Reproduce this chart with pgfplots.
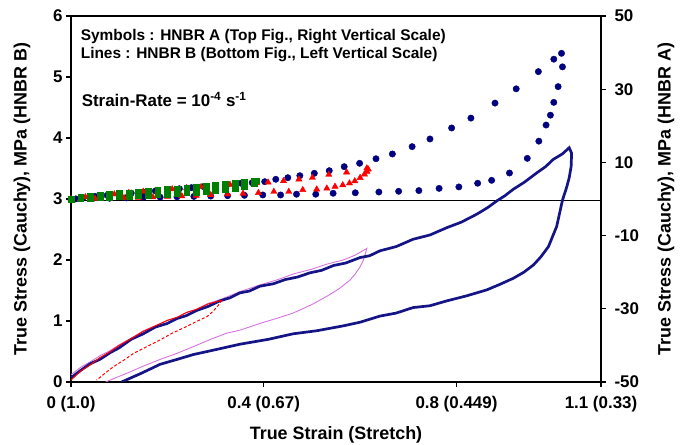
\documentclass[border=0pt]{standalone}
\usepackage{fontspec}
\setmainfont{Liberation Sans}
\usepackage{pgfplots}
\pgfplotsset{compat=1.18}
\definecolor{navyl}{RGB}{20,20,135}
\definecolor{dotblue}{RGB}{0,0,128}
\definecolor{pinkl}{RGB}{215,115,225}
\definecolor{gr}{RGB}{0,128,0}
\begin{document}
\begin{tikzpicture}
\pgfplotsset{
  common/.style={
    width=530bp, height=366bp, scale only axis,
    xmin=0, xmax=1.1,
    tick align=outside,
    major tick length=5bp,
    every tick/.style={black, line width=1.2bp},
    axis line style={line width=1.5bp},
    ticklabel style={font=\fontsize{17}{17}\selectfont\bfseries},
    /pgf/number format/assume math mode=true,
    label style={font=\fontsize{18}{18}\selectfont\bfseries},
  }
}
\begin{axis}[common,
  ymin=0, ymax=6,
  xtick={0,0.4,0.8,1.1},
  xticklabels={0 (1.0),0.4 (0.67),0.8 (0.449),1.1 (0.33)},
  xticklabel style={yshift=-6bp},
  ytick={0,1,2,3,4,5,6},
  xtick pos=bottom, ytick pos=left,
  xlabel={True Strain (Stretch)},
  ylabel={True Stress (Cauchy), MPa (HNBR B)},
  xlabel style={at={(axis description cs:0.5,-0.158)}, anchor=base},
  ylabel style={at={(axis description cs:-0.0925,0.5)}, anchor=center},
]
\coordinate (bl) at (rel axis cs:0,0);
\coordinate (tr) at (rel axis cs:1,1);
\addplot[black, line width=1.2bp] coordinates {(0,2.98) (1.1,2.98)};
% pink line
\addplot[pinkl, line width=0.9bp] coordinates {
(0,0.12)(0.02,0.24)(0.04,0.33)(0.06,0.43)(0.08,0.51)(0.10,0.61)(0.125,0.72)(0.15,0.84)(0.175,0.92)(0.20,1.01)(0.22,1.06)(0.24,1.14)(0.26,1.19)(0.285,1.29)(0.31,1.35)(0.35,1.48)(0.392,1.59)(0.43,1.68)(0.461,1.77)(0.50,1.85)(0.53,1.93)(0.565,2.00)(0.59,2.08)(0.614,2.19)
(0.611,2.10)(0.606,1.98)(0.600,1.89)(0.590,1.77)(0.579,1.67)(0.555,1.52)(0.530,1.40)(0.50,1.27)(0.461,1.13)(0.43,1.05)(0.392,0.96)(0.351,0.85)(0.323,0.80)(0.29,0.70)(0.254,0.58)(0.22,0.47)(0.185,0.37)(0.15,0.26)(0.115,0.14)(0.09,0.06)(0.072,0)};
% navy line
\addplot[navyl, line width=2.7bp] coordinates {
(0,0.07)(0.02,0.19)(0.04,0.30)(0.06,0.37)(0.081,0.48)(0.10,0.56)(0.125,0.70)(0.15,0.79)(0.175,0.90)(0.20,0.96)(0.22,1.04)(0.24,1.09)(0.26,1.17)(0.285,1.24)(0.309,1.33)(0.33,1.38)(0.35,1.46)(0.37,1.49)(0.392,1.57)(0.42,1.61)(0.445,1.68)(0.47,1.72)(0.496,1.79)(0.52,1.83)(0.545,1.91)(0.57,1.95)(0.600,2.04)(0.62,2.07)(0.641,2.15)(0.675,2.22)(0.710,2.34)(0.745,2.41)(0.780,2.53)(0.81,2.62)(0.842,2.75)(0.865,2.86)(0.884,2.97)(0.90,3.05)(0.918,3.16)(0.94,3.27)(0.967,3.43)(0.985,3.53)(1.001,3.65)(1.02,3.74)(1.034,3.84)
(1.039,3.75)(1.038,3.53)(1.034,3.35)(1.029,3.2)(1.020,2.98)(1.008,2.55)(0.991,2.22)(0.975,2.05)(0.960,1.92)(0.94,1.80)(0.918,1.70)(0.89,1.60)(0.863,1.51)(0.82,1.41)(0.780,1.33)(0.745,1.25)(0.710,1.22)(0.675,1.13)(0.641,1.08)(0.60,0.98)(0.565,0.92)(0.51,0.84)(0.461,0.79)(0.41,0.70)(0.351,0.62)(0.30,0.53)(0.254,0.45)(0.22,0.37)(0.185,0.29)(0.145,0.14)(0.105,0.0)};
% red line
\addplot[red, line width=1bp] coordinates {
(0,0.03)(0.02,0.18)(0.04,0.28)(0.06,0.40)(0.08,0.49)(0.10,0.60)(0.125,0.71)(0.15,0.83)(0.175,0.92)(0.20,1.01)(0.22,1.06)(0.24,1.14)(0.26,1.19)(0.285,1.28)(0.313,1.34)};
\addplot[red, line width=1bp, densely dashed] coordinates {
(0.313,1.34)(0.305,1.25)(0.295,1.16)(0.282,1.07)(0.26,0.99)(0.24,0.91)(0.21,0.80)(0.185,0.69)(0.16,0.59)(0.13,0.47)(0.11,0.36)(0.088,0.25)(0.07,0.14)(0.053,0.03)};
\node[anchor=base west, inner sep=0, font=\fontsize{15.5}{15.5}\selectfont\bfseries] at (axis cs:0.02,5.595) {Symbols : HNBR A (Top Fig., Right Vertical Scale)};
\node[anchor=base west, inner sep=0, font=\fontsize{15.5}{15.5}\selectfont\bfseries] at (axis cs:0.02,5.30) {Lines : HNBR B (Bottom Fig., Left Vertical Scale)};
\node[anchor=base west, inner sep=0, font=\fontsize{17}{17}\selectfont\bfseries] at (axis cs:0.022,4.52) {Strain-Rate = 10\textsuperscript{-4} s\textsuperscript{-1}};
\end{axis}
\begin{axis}[common,
  ymin=-50, ymax=50,
  axis y line*=right, axis x line=none,
  ytick={-50,-30,-10,10,30,50},
  yticklabel style={xshift=5bp},
  ylabel={True Stress (Cauchy), MPa (HNBR A)},
  ylabel style={at={(axis description cs:1.1226,0.5)}, anchor=center},
]
\addplot[only marks, mark=*, mark size=3.2bp, dotblue] coordinates {
(0,0)(0.025,0.4)(0.05,0.7)(0.075,1.0)(0.10,1.3)(0.125,1.6)(0.15,1.9)(0.175,2.2)(0.20,2.5)(0.225,2.8)(0.25,3.1)(0.275,3.4)(0.30,3.7)(0.325,4.0)(0.353,4.3)(0.376,4.45)(0.402,4.73)(0.425,5.38)(0.450,5.82)(0.475,6.37)(0.505,7.02)(0.536,7.73)(0.567,8.83)(0.599,9.75)(0.633,11.0)(0.667,12.3)(0.708,14.3)(0.745,16.4)(0.790,19.4)(0.830,22.1)(0.880,26.2)(0.924,30.1)(0.970,34.8)(1.002,38.2)(1.018,39.8)
(1.020,36.1)(1.011,30.7)(1.002,26.4)(0.995,22.9)(0.986,20.2)(0.971,15.8)(0.947,11.1)(0.910,7.1)(0.873,5.1)(0.844,4.3)(0.805,3.3)(0.764,2.9)(0.722,2.3)(0.680,2.1)(0.639,1.9)(0.590,1.7)(0.544,1.56)(0.508,1.3)(0.468,1.3)(0.435,1.1)(0.398,1.1)(0.36,1.0)(0.325,0.9)(0.29,0.8)(0.255,0.7)(0.22,0.6)(0.185,0.5)(0.15,0.4)(0.115,0.3)(0.08,0.2)(0.045,0.1)(0.01,0.03)};
\addplot[only marks, mark=triangle*, mark size=3.6bp, red] coordinates {
(0,0)(0.03,0.5)(0.06,0.9)(0.09,1.3)(0.12,1.7)(0.15,2.0)(0.18,2.3)(0.21,2.7)(0.24,3.0)(0.27,3.3)(0.30,3.6)(0.33,3.9)(0.36,4.2)(0.385,4.4)(0.409,4.56)(0.441,4.92)(0.473,5.38)(0.501,5.82)(0.535,6.64)(0.572,7.3)(0.614,8.4)
(0.617,8.1)(0.614,7.5)(0.609,6.75)(0.600,5.8)(0.589,4.9)(0.578,4.3)(0.564,3.8)(0.548,3.4)(0.531,2.9)(0.510,2.65)(0.481,2.5)(0.452,2.0)(0.421,2.0)(0.389,1.7)(0.357,1.5)(0.325,1.3)(0.29,1.1)(0.26,0.95)(0.23,0.8)(0.20,0.65)(0.17,0.5)(0.14,0.4)(0.11,0.3)(0.08,0.2)(0.05,0.1)(0.02,0.03)};
\addplot[only marks, mark=square*, mark size=2.9bp, gr] coordinates {
(0,0)(0.02,0.4)(0.04,0.7)(0.06,1.0)(0.08,1.2)(0.10,1.5)(0.12,1.7)(0.14,1.9)(0.16,2.1)(0.18,2.4)(0.20,2.6)(0.22,2.8)(0.24,3.1)(0.26,3.3)(0.28,3.6)(0.30,3.8)(0.32,4.0)(0.34,4.3)(0.36,4.6)(0.38,4.9)(0.385,5.0)
(0.38,4.3)(0.36,3.4)(0.34,2.9)(0.32,2.6)(0.30,2.3)(0.28,2.1)(0.26,1.9)(0.24,1.7)(0.22,1.5)(0.20,1.35)(0.18,1.2)(0.16,1.05)(0.14,0.9)(0.12,0.75)(0.10,0.6)(0.08,0.5)(0.06,0.35)(0.04,0.25)(0.02,0.1)};
\end{axis}
\pgfresetboundingbox
\path[use as bounding box] ([shift={(-71bp,-63bp)}]bl) rectangle ([shift={(82bp,16bp)}]tr);
\end{tikzpicture}
\end{document}
